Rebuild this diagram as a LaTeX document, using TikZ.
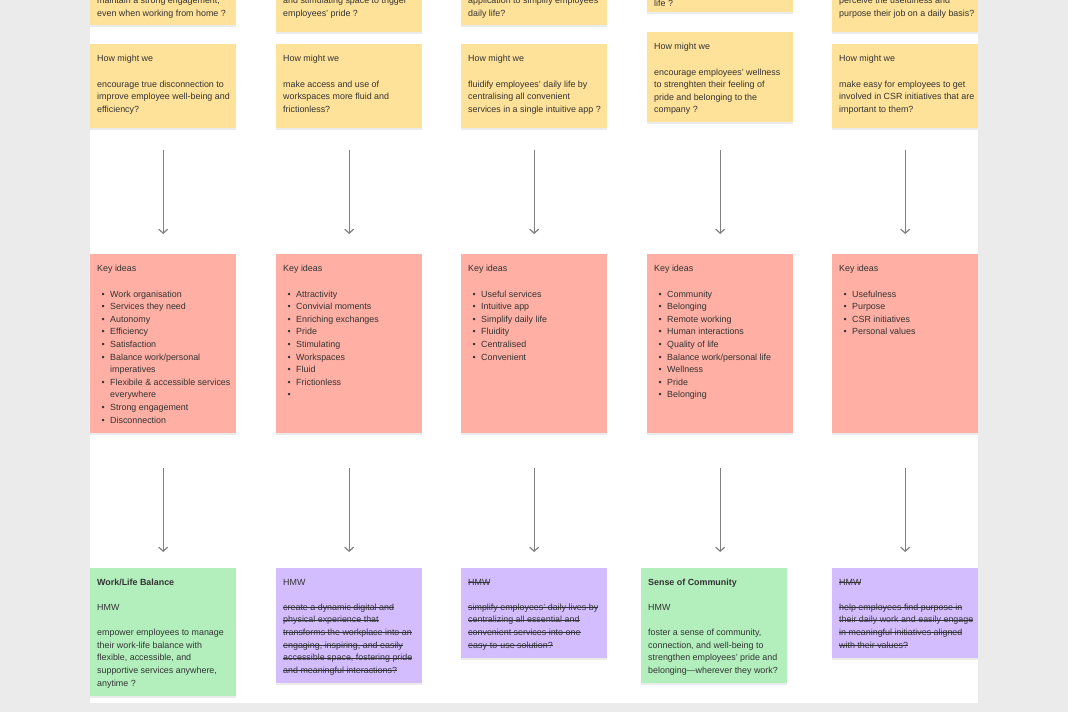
\documentclass[tikz,border=0pt]{standalone}
\usepackage{fontspec}
\setmainfont{Liberation Sans}
\usetikzlibrary{arrows.meta,calc,shadows}
\definecolor{bggray}{HTML}{EBEBEB}
\definecolor{stYellow}{HTML}{FFE299}
\definecolor{stRed}{HTML}{FFAFA3}
\definecolor{stGreen}{HTML}{B3EFBD}
\definecolor{stViolet}{HTML}{D3BDFF}
\definecolor{txtc}{HTML}{333333}
\definecolor{arrc}{HTML}{808080}
\newcommand{\kbul}[1]{\hspace*{4.5pt}\makebox[8.5pt][l]{\textbullet}#1}
\newcommand{\kcont}[1]{\hspace*{13pt}#1}
\newsavebox{\strkbox}
\newcommand{\strk}[1]{\sbox{\strkbox}{#1}\rlap{\rule[2.6pt]{\wd\strkbox}{0.5pt}}\usebox{\strkbox}}
\begin{document}
\begin{tikzpicture}[x=1pt,y=-1pt,
  sticky/.style={draw=none, anchor=north west, inner sep=0pt, minimum width=146pt,
    drop shadow={shadow xshift=0pt, shadow yshift=-1.5pt, opacity=0.08, fill=black}},
  ybox/.style={sticky, fill=stYellow},
  rbox/.style={sticky, fill=stRed},
  gbox/.style={sticky, fill=stGreen},
  vbox/.style={sticky, fill=stViolet},
  txt/.style={anchor=north west, align=left, inner sep=0pt, text=txtc,
    font=\fontsize{8.9}{12.6}\selectfont, execute at begin node=\strut},
  arr/.style={draw=arrc, line width=1.2pt, -{Straight Barb[length=4pt,width=9pt]}},
]
\useasboundingbox (0,0) rectangle (1068,712);
\clip (0,0) rectangle (1068,712);
\fill[bggray] (0,0) rectangle (1068,712);
\fill[white] (90,0) rectangle (978,703);

% ---------- top (cut) row ----------
\node[ybox, minimum height=85pt] (t1) at (90,-60) {};
\node[ybox, minimum height=92pt] (t2) at (276,-60) {};
\node[ybox, minimum height=85pt] (t3) at (461,-60) {};
\node[ybox, minimum height=72pt] (t4) at (647,-60) {};
\node[ybox, minimum height=92pt] (t5) at (832,-60) {};
\node[txt] (tt1) at (97,-2.8) {maintain a strong engagement,\\even when working from home ?};
\node[txt] (tt2) at (283,-2.8) {and stimulating space to trigger\\employees’ pride ?};
\node[txt] (tt3) at (468,-2.8) {application to simplify employees\\daily life?};
\node[txt] (tt4) at (654,-2.8) {life ?};
\node[txt] (tt5) at (839,-2.8) {perceive the usefulness and\\purpose their job on a daily basis?};

% ---------- How might we row ----------
\node[ybox, minimum height=84pt] (y1) at (90,44) {};
\node[ybox, minimum height=84pt] (y2) at (276,44) {};
\node[ybox, minimum height=84pt] (y3) at (461,44) {};
\node[ybox, minimum height=90pt] (y4) at (647,32) {};
\node[ybox, minimum height=84pt] (y5) at (832,44) {};
\node[txt] (yt1) at ($(y1.north west)+(7,11.2)$) {How might we\\[12.6pt]encourage true disconnection to\\improve employee well-being and\\efficiency?};
\node[txt] (yt2) at ($(y2.north west)+(7,11.2)$) {How might we\\[12.6pt]make access and use of\\workspaces more fluid and\\frictionless?};
\node[txt] (yt3) at ($(y3.north west)+(7,11.2)$) {How might we\\[12.6pt]fluidify employees’ daily life by\\centralising all convenient\\services in a single intuitive app ?};
\node[txt] (yt4) at ($(y4.north west)+(7,11.2)$) {How might we\\[12.6pt]encourage employees’ wellness\\to strenghten their feeling of\\pride and belonging to the\\company ?};
\node[txt] (yt5) at ($(y5.north west)+(7,11.2)$) {How might we\\[12.6pt]make easy for employees to get\\involved in CSR initiatives that are\\important to them?};

% ---------- Key ideas row ----------
\node[rbox, minimum height=179pt] (r1) at (90,254) {};
\node[rbox, minimum height=179pt] (r2) at (276,254) {};
\node[rbox, minimum height=179pt] (r3) at (461,254) {};
\node[rbox, minimum height=179pt] (r4) at (647,254) {};
\node[rbox, minimum height=179pt] (r5) at (832,254) {};
\node[txt] (rt1) at ($(r1.north west)+(7,11.2)$) {Key ideas\\[12.6pt]\kbul{Work organisation}\\\kbul{Services they need}\\\kbul{Autonomy}\\\kbul{Efficiency}\\\kbul{Satisfaction}\\\kbul{Balance work/personal}\\\kcont{imperatives}\\\kbul{Flexibile \& accessible services}\\\kcont{everywhere}\\\kbul{Strong engagement}\\\kbul{Disconnection}};
\node[txt] (rt2) at ($(r2.north west)+(7,11.2)$) {Key ideas\\[12.6pt]\kbul{Attractivity}\\\kbul{Convivial moments}\\\kbul{Enriching exchanges}\\\kbul{Pride}\\\kbul{Stimulating}\\\kbul{Workspaces}\\\kbul{Fluid}\\\kbul{Frictionless}\\\kbul{}};
\node[txt] (rt3) at ($(r3.north west)+(7,11.2)$) {Key ideas\\[12.6pt]\kbul{Useful services}\\\kbul{Intuitive app}\\\kbul{Simplify daily life}\\\kbul{Fluidity}\\\kbul{Centralised}\\\kbul{Convenient}};
\node[txt] (rt4) at ($(r4.north west)+(7,11.2)$) {Key ideas\\[12.6pt]\kbul{Community}\\\kbul{Belonging}\\\kbul{Remote working}\\\kbul{Human interactions}\\\kbul{Quality of life}\\\kbul{Balance work/personal life}\\\kbul{Wellness}\\\kbul{Pride}\\\kbul{Belonging}};
\node[txt] (rt5) at ($(r5.north west)+(7,11.2)$) {Key ideas\\[12.6pt]\kbul{Usefulness}\\\kbul{Purpose}\\\kbul{CSR initiatives}\\\kbul{Personal values}};

% ---------- HMW row ----------
\node[gbox, minimum height=128pt] (b1) at (90,568) {};
\node[vbox, minimum height=115pt] (b2) at (276,568) {};
\node[vbox, minimum height=90pt] (b3) at (461,568) {};
\node[gbox, minimum height=115pt] (b4) at (641,568) {};
\node[vbox, minimum height=90pt] (b5) at (832,568) {};
\node[txt] (bt1) at ($(b1.north west)+(7,10.7)$) {\textbf{Work/Life Balance}\\[12.6pt]HMW\\[12.6pt]empower employees to manage\\their work-life balance with\\flexible, accessible, and\\supportive services anywhere,\\anytime ?};
\node[txt] (bt2) at ($(b2.north west)+(7,10.7)$) {HMW\\[12.6pt]\strk{create a dynamic digital and}\\\strk{physical experience that}\\\strk{transforms the workplace into an}\\\strk{engaging, inspiring, and easily}\\\strk{accessible space, fostering pride}\\\strk{and meaningful interactions?}};
\node[txt] (bt3) at ($(b3.north west)+(7,10.7)$) {\strk{HMW}\\[12.6pt]\strk{simplify employees’ daily lives by}\\\strk{centralizing all essential and}\\\strk{convenient services into one}\\\strk{easy-to-use solution?}};
\node[txt] (bt4) at ($(b4.north west)+(7,10.7)$) {\textbf{Sense of Community}\\[12.6pt]HMW\\[12.6pt]foster a sense of community,\\connection, and well-being to\\strengthen employees’ pride and\\belonging—wherever they work?};
\node[txt] (bt5) at ($(b5.north west)+(7,10.7)$) {\strk{HMW}\\[12.6pt]\strk{help employees find purpose in}\\\strk{their daily work and easily engage}\\\strk{in meaningful initiatives aligned}\\\strk{with their values?}};

% ---------- arrows ----------
\draw[arr, shorten <=22pt, shorten >=20pt] (y1.south) -- (r1.north);
\draw[arr, shorten <=22pt, shorten >=20pt] (y2.south) -- (r2.north);
\draw[arr, shorten <=22pt, shorten >=20pt] (y3.south) -- (r3.north);
\draw[arr, shorten <=28pt, shorten >=20pt] (y4.south) -- (r4.north);
\draw[arr, shorten <=22pt, shorten >=20pt] (y5.south) -- (r5.north);
\draw[arr, shorten <=35pt, shorten >=16pt] (r1.south) -- (b1.north);
\draw[arr, shorten <=35pt, shorten >=16pt] (r2.south) -- (b2.north);
\draw[arr, shorten <=35pt, shorten >=16pt] (r3.south) -- (b3.north);
\draw[arr, shorten <=35pt, shorten >=16pt] (r4.south) -- (r4.south |- b4.north);
\draw[arr, shorten <=35pt, shorten >=16pt] (r5.south) -- (b5.north);
\end{tikzpicture}
\end{document}
